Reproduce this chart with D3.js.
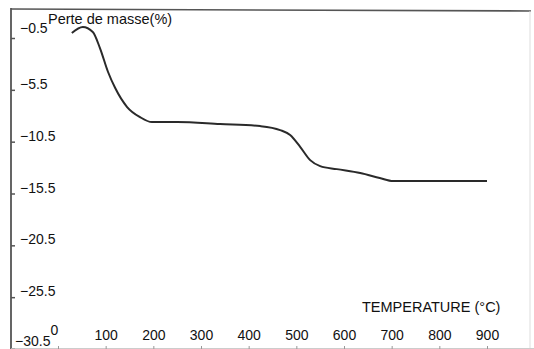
<!DOCTYPE html>
<html>
<head>
<meta charset="utf-8">
<script src="https://d3js.org/d3.v7.min.js"></script>
<style>
  body { margin: 0; background: #fff; }
  svg { display: block; font-family: "Liberation Sans", Arial, sans-serif; }
</style>
</head>
<body>
<svg class="chart" width="534" height="349"></svg>
<script>
// temperature (°C) and mass loss (%)
var temps = [29, 52, 73, 88, 105, 120, 145, 172, 197, 250, 340, 424, 466, 487, 508, 529, 550, 585, 634, 675, 703, 801, 900];
var loss  = [-0.02, 0.56, 0.08, -1.47, -3.78, -5.33, -7.16, -8.13, -8.61, -8.61, -8.8, -9.0, -9.38, -9.86, -11.0, -12.28, -12.86, -13.15, -13.53, -14.0, -14.3, -14.3, -14.3];
var xTicks = [0, 100, 200, 300, 400, 500, 600, 700, 800, 900];
var yTicks = [-0.5, -5.5, -10.5, -15.5, -20.5, -25.5, -30.5];

var data = temps.map(function(t, i) { return {t: t, v: loss[i]}; });

var svg = d3.select(".chart");

var x = d3.scaleLinear().domain([0, 900]).range([58, 487]);
var y = d3.scaleLinear().domain([-30.5, -0.5]).range([349, 38]);

// frame: left axis, top border, faint right border
svg.append("line").attr("x1", 11).attr("x2", 11).attr("y1", 8).attr("y2", 349)
  .attr("stroke", "#555").attr("stroke-width", 1.8);
svg.append("line").attr("x1", 11).attr("x2", 531).attr("y1", 9).attr("y2", 11)
  .attr("stroke", "#555").attr("stroke-width", 1.6);
svg.append("line").attr("x1", 530).attr("x2", 530).attr("y1", 11).attr("y2", 349)
  .attr("stroke", "#ddd").attr("stroke-width", 1);
svg.append("line").attr("x1", 11).attr("x2", 534).attr("y1", 348.5).attr("y2", 348.5)
  .attr("stroke", "#ccc").attr("stroke-width", 1);

var yAxis = svg.append("g")
  .attr("transform", "translate(11,0)")
  .call(d3.axisRight(y).tickValues(yTicks).tickSize(4).tickPadding(5)
    .tickFormat(function(d) { return d3.format(".1f")(d); }));
yAxis.select(".domain").remove();
yAxis.selectAll("line").attr("stroke", "#555").attr("stroke-width", 1.5);
yAxis.selectAll("text").attr("font-size", 14).attr("fill", "#111")
  .attr("font-family", "Liberation Sans, Arial, sans-serif")
  .attr("dy", "-0.1em");
yAxis.selectAll("text").filter(function(d) { return d === -30.5; })
  .attr("dx", -5).attr("dy", "-0.25em");
yAxis.selectAll("text").filter(function(d) { return d === -0.5; })
  .attr("dy", "-0.4em");

var xAxis = svg.append("g")
  .attr("transform", "translate(0,349)")
  .call(d3.axisTop(x).tickValues(xTicks).tickSize(3).tickPadding(6));
xAxis.select(".domain").remove();
xAxis.selectAll("line").attr("stroke", "#999");
xAxis.selectAll("text").attr("font-size", 14).attr("fill", "#111")
  .attr("font-family", "Liberation Sans, Arial, sans-serif");
xAxis.selectAll("text").filter(function(d) { return d === 0; })
  .attr("dx", -4).attr("dy", "-0.35em");

svg.append("text").attr("x", 48).attr("y", 24)
  .attr("font-size", 14.5).attr("fill", "#111")
  .text("Perte de masse(%)");

svg.append("text").attr("x", 362).attr("y", 312)
  .attr("font-size", 14.5).attr("fill", "#111")
  .text("TEMPERATURE (°C)");

var line = d3.line()
  .x(function(d) { return x(d.t); })
  .y(function(d) { return y(d.v); })
  .curve(d3.curveMonotoneX);

svg.append("path").datum(data)
  .attr("d", line)
  .attr("fill", "none")
  .attr("stroke", "#2a2a2a")
  .attr("stroke-width", 2);
</script>
</body>
</html>
